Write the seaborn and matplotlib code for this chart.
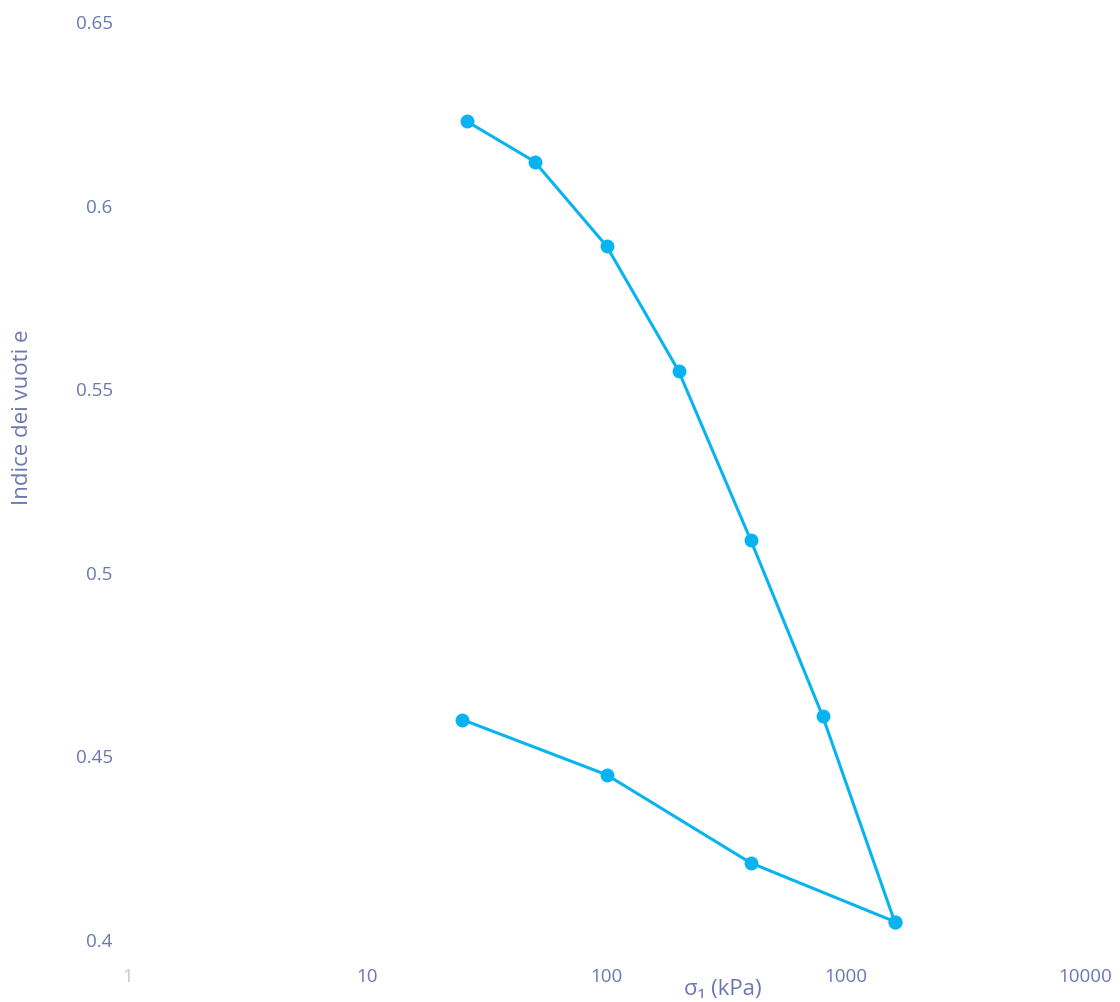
import matplotlib
matplotlib.use("Agg")
import matplotlib.pyplot as plt
import seaborn as sns
import pandas as pd

# Data
load_sigma = [26, 50, 100, 200, 400, 800, 1600]
load_e = [0.623, 0.612, 0.589, 0.555, 0.509, 0.461, 0.405]
unload_sigma = [1600, 400, 100, 25]
unload_e = [0.405, 0.421, 0.445, 0.460]

x_ticks = [1, 10, 100, 1000, 10000]
x_ticklabels = ["1", "10", "100", "1000", "10000"]
y_ticks = [0.4, 0.45, 0.5, 0.55, 0.6, 0.65]
y_ticklabels = ["0.4", "0.45", "0.5", "0.55", "0.6", "0.65"]

sns.set_theme(style="white")
plt.rcParams["font.family"] = ["Open Sans", "DejaVu Sans"]

label_color = "#6b78b0"
line_color = "#08B4F0"

fig = plt.figure(figsize=(11.2, 10.02), dpi=100)
ax = fig.add_axes([0.1143, 0.0619, 0.8545, 0.9161])

df_load = pd.DataFrame({"sigma": load_sigma, "e": load_e})
df_unload = pd.DataFrame({"sigma": unload_sigma, "e": unload_e})

for d in (df_load, df_unload):
    sns.lineplot(data=d, x="sigma", y="e", sort=False, ax=ax, color=line_color,
                 linewidth=2.2, marker="o", markersize=10, markeredgewidth=0,
                 markerfacecolor=line_color)

ax.set_xscale("log")
ax.set_xlim(1, 10000)
ax.set_ylim(0.4, 0.65)
ax.set_xticks(x_ticks)
ax.set_xticklabels(x_ticklabels)
ax.set_yticks(y_ticks)
ax.set_yticklabels(y_ticklabels)
ax.minorticks_off()
ax.tick_params(axis="x", length=0, pad=20, labelsize=13.5, labelcolor=label_color)
ax.tick_params(axis="y", length=0, pad=11, labelsize=13.5, labelcolor=label_color)
ax.get_xticklabels()[0].set_color("#c8c8c8")
for s in ax.spines.values():
    s.set_visible(False)
ax.grid(False)

ax.set_xlabel("σ₁ (kPa)", fontsize=16, color=label_color)
ax.set_ylabel("Indice dei vuoti e", fontsize=16, color=label_color)
ax.xaxis.set_label_coords(0.621, -0.043)
ax.yaxis.set_label_coords(-0.099, 0.569)
for l in ax.lines:
    l.set_clip_on(False)

fig.savefig("out.png", dpi=100, facecolor="white")
